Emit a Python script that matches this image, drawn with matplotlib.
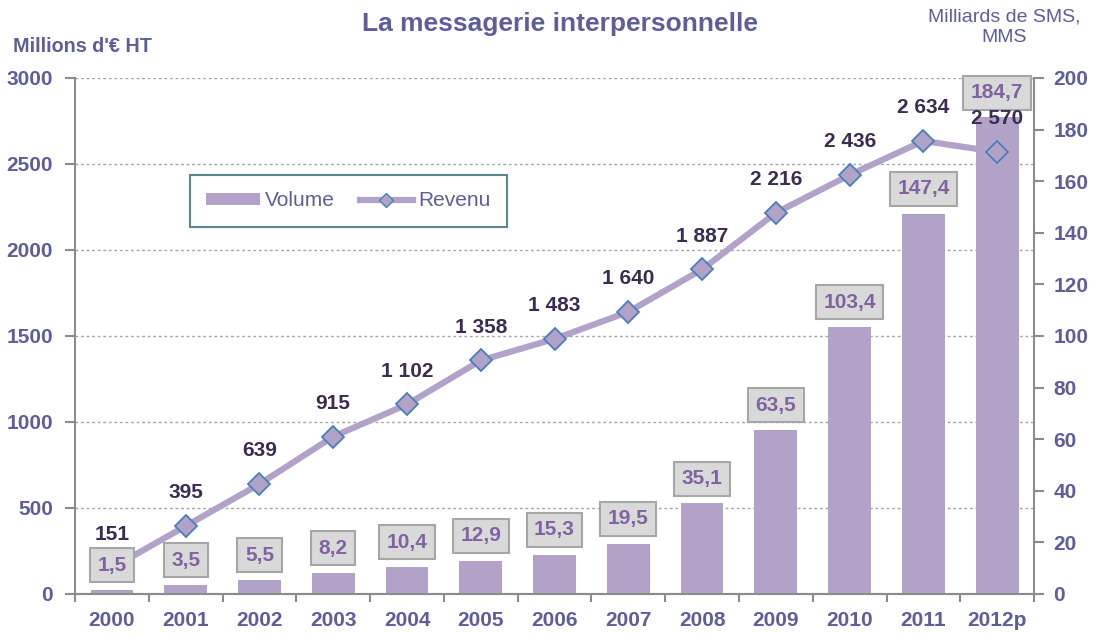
import matplotlib.pyplot as plt
from matplotlib.patches import Patch
from matplotlib.lines import Line2D
import numpy as np

# Data
years = ['2000', '2001', '2002', '2003', '2004', '2005', '2006',
         '2007', '2008', '2009', '2010', '2011', '2012p']
volume = [1.5, 3.5, 5.5, 8.2, 10.4, 12.9, 15.3, 19.5, 35.1, 63.5, 103.4, 147.4, 184.7]
revenu = [151, 395, 639, 915, 1102, 1358, 1483, 1640, 1887, 2216, 2436, 2634, 2570]

# Colours
text_col = '#5e5e9a'
bar_col = '#b3a2c7'
edge_blue = '#4a7ebb'
dark_lbl = '#3b2d4f'
axis_gray = '#8c8c8c'

plt.rcParams['font.family'] = ['Liberation Sans', 'DejaVu Sans']


def fmt_fr(v):
    return f'{v:,.0f}'.replace(',', ' ')


def main():
    fig = plt.figure(figsize=(10.94, 6.35), dpi=100)
    x = np.arange(len(years))
    rect = [0.0686, 0.0646, 0.8766, 0.8126]

    # Left axis: revenue scale and gridlines
    ax = fig.add_axes(rect)
    ax.set_xlim(-0.5, len(years) - 0.5)
    ax.set_ylim(0, 3000)
    ax.set_yticks(np.arange(0, 3001, 500))
    for yv in np.arange(500, 3001, 500):
        ax.axhline(yv, color='#a6a6a6', lw=1, ls=(0, (2, 2)), zorder=0)

    # Right axis: SMS/MMS volume bars
    ax2 = ax.twinx()
    ax2.set_ylim(0, 200)
    ax2.set_yticks(np.arange(0, 201, 20))
    ax2.bar(x, volume, width=0.58, color=bar_col, zorder=2)

    # Revenue line on its own layer, sharing the left scale
    ax3 = fig.add_axes(rect, sharex=ax, sharey=ax)
    ax3.patch.set_visible(False)
    ax3.axis('off')
    ax3.plot(x, revenu, color=bar_col, lw=4.5, marker='D', markersize=11,
             markerfacecolor=bar_col, markeredgecolor=edge_blue,
             markeredgewidth=1.3, zorder=3)
    for xi, v in zip(x, revenu):
        ax3.annotate(fmt_fr(v), (xi, v), xytext=(0, 24),
                     textcoords='offset points', ha='center', va='center',
                     fontsize=15, fontweight='bold', color=dark_lbl, zorder=6)

    # Volume labels in grey boxes, drawn over the line
    for xi, v in zip(x, volume):
        ax3.annotate(f'{v:.1f}'.replace('.', ','), (xi, v), xycoords=ax2.transData,
                     xytext=(0, 11), textcoords='offset points',
                     ha='center', va='bottom', fontsize=15, fontweight='bold',
                     color='#8064a2',
                     bbox=dict(boxstyle='square,pad=0.36', fc='#d9d9d9',
                               ec='#a6a6a6', lw=1.5), zorder=5)

    # Axis styling
    for a in (ax, ax2):
        for s in a.spines.values():
            s.set_color(axis_gray)
            s.set_linewidth(1.5)
        a.spines['top'].set_visible(False)
    ax.spines['right'].set_visible(False)
    ax2.spines['left'].set_visible(False)

    ax.set_xticks(x)
    ax.set_xticklabels(years)
    ax.set_xticks(np.arange(-0.5, len(years), 1), minor=True)
    ax.tick_params(axis='x', which='major', length=0, pad=12,
                   labelsize=15, labelcolor=text_col)
    ax.tick_params(axis='x', which='minor', length=6, width=1.5, color=axis_gray)
    for lbl in ax.get_xticklabels():
        lbl.set_fontweight('bold')

    ax.tick_params(axis='y', length=7, width=1.5, color=axis_gray, pad=9,
                   labelsize=15, labelcolor=text_col)
    ax2.tick_params(axis='y', length=7, width=1.5, color=axis_gray, pad=7,
                    labelsize=15, labelcolor=text_col)
    for lbl in ax.get_yticklabels() + ax2.get_yticklabels():
        lbl.set_fontweight('bold')

    # Titles
    fig.text(0.512, 0.962, 'La messagerie interpersonnelle', ha='center',
             va='center', fontsize=19, fontweight='bold', color=text_col)
    fig.text(0.012, 0.926, "Millions d'€ HT", ha='left', va='center',
             fontsize=14.2, fontweight='bold', color=text_col)
    fig.text(0.918, 0.957, 'Milliards de SMS,\nMMS', ha='center', va='center',
             fontsize=14, color=text_col, multialignment='center',
             linespacing=1.3)

    # Legend
    handles = [Patch(facecolor=bar_col, edgecolor='none', label='Volume'),
               Line2D([0], [0], color=bar_col, lw=4.5, marker='D', markersize=7,
                      markerfacecolor=bar_col, markeredgecolor=edge_blue,
                      label='Revenu')]
    leg = ax3.legend(handles=handles, loc='center', bbox_to_anchor=(0.285, 0.762),
                     ncol=2, frameon=True, fancybox=False, fontsize=15,
                     handlelength=2.55, handleheight=0.5, columnspacing=1.2,
                     handletextpad=0.25, borderpad=0.8, borderaxespad=0)
    leg.get_frame().set_edgecolor('#2f6a70')
    leg.get_frame().set_linewidth(1.5)
    for t in leg.get_texts():
        t.set_color(text_col)

    fig.savefig('out.png', dpi=100)


if __name__ == "__main__": main()
